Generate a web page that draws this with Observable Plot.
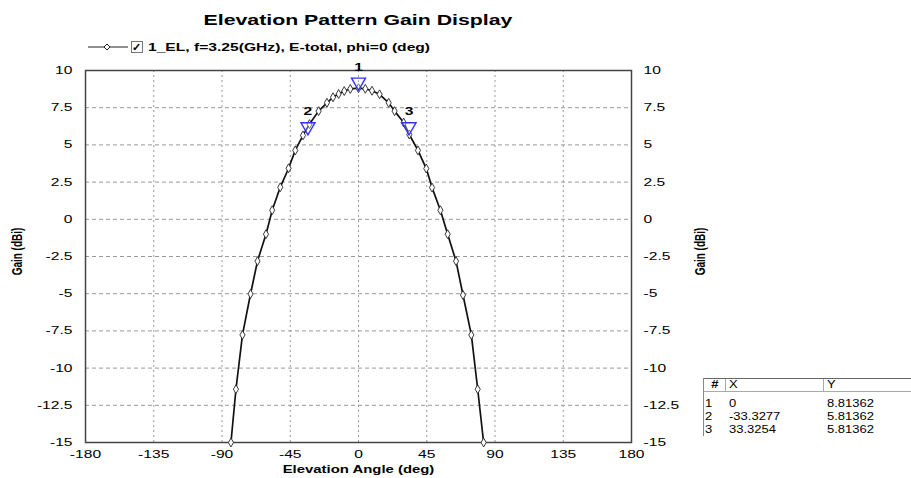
<!DOCTYPE html>
<html><head><meta charset="utf-8">
<script src="https://cdn.jsdelivr.net/npm/d3@7"></script>
<script src="https://cdn.jsdelivr.net/npm/@observablehq/plot@0.6"></script>
<style>
body{margin:0;background:#fff;font-family:"Liberation Sans",Arial,sans-serif;color:#000;}
#wrap{position:relative;width:911px;height:478px;overflow:hidden;background:#fff;}
#title{position:absolute;left:0;width:716px;top:11px;text-align:center;font-weight:bold;font-size:15px;line-height:18px;transform:scaleX(1.42);transform-origin:358px 0;}
#legend{position:absolute;left:88px;top:39px;height:16px;display:flex;align-items:center;}
#legend .box{width:10px;height:10px;border:1px solid #777;margin:0 5px 0 3px;position:relative;background:#fff;}
#legend .box span{position:absolute;left:0px;top:-2px;font-size:11px;font-weight:bold;line-height:14px;}
#legend .txt{font-weight:bold;font-size:11px;transform:scaleX(1.42);transform-origin:0 50%;white-space:nowrap;}
#chart{position:absolute;left:0;top:60px;}
#table{position:absolute;left:703px;top:378px;width:210px;font-size:10px;font-family:"Liberation Sans",Arial,sans-serif;border-left:1px solid #888;}
#table .row{display:flex;height:13px;line-height:13px;}
#table .hdr{border-top:1px solid #666;height:13px;line-height:12px;margin-bottom:5px;}
#table .hdr > div{border-right:1px solid #aaa;border-bottom:1px solid #aaa;box-sizing:border-box;}
#table .c0{width:22px;padding-left:1px;box-sizing:border-box;}
#table .c1{width:98px;padding-left:3px;box-sizing:border-box;}
#table .c2{width:90px;padding-left:3px;box-sizing:border-box;}
#table .t{display:inline-block;transform:scaleX(1.3);transform-origin:0 50%;}
</style></head>
<body>
<div id="wrap">
  <div id="title">Elevation Pattern Gain Display</div>
  <div id="legend"></div>
  <div id="chart"></div>
  <div id="table"></div>
</div>
<script>
// Pattern samples
const angles = [-84.1,-80.8,-76.5,-71.2,-66.6,-61.0,-56.9,-51.6,-46.1,-41.7,-36.6,-32.3,-26.3,-20.8,-16.8,-13.1,-9.4,-5.4,0,4.5,8.9,13.9,19.9,23.8,29.8,33.5,39.2,44.7,48.5,54.0,58.8,64.3,68.9,74.4,78.6,82.5];
const gains = [-15,-11.42,-7.77,-5.02,-2.81,-1.0,0.61,2.15,3.43,4.63,5.64,6.4,7.27,7.83,8.2,8.42,8.62,8.76,8.81,8.77,8.64,8.4,7.83,7.27,6.5,5.7,4.63,3.41,2.13,0.61,-1.0,-2.81,-5.09,-7.77,-11.42,-15];

// Markers
const markerIds = ["1","2","3"];
const markerX = [0,-33.3277,33.3254];
const markerY = [8.81362,5.81362,5.81362];

// Axis ticks
const xTicks = [-180,-135,-90,-45,0,45,90,135,180];
const yTicks = [10,7.5,5,2.5,0,-2.5,-5,-7.5,-10,-12.5,-15];

const seriesLabel = "1_EL, f=3.25(GHz), E-total, phi=0 (deg)";
const xLabel = "Elevation Angle (deg)";
const yLabel = "Gain (dBi)";

const pts = angles.map((a,i)=>({a, g:gains[i]}));
const markers = markerIds.map((id,i)=>({id, x:markerX[i], y:markerY[i]}));
const fmt = d => String(d);
const font = "'Liberation Sans', Arial, sans-serif";
const STRETCH = 1.42;

const plot = Plot.plot({
  width: 911, height: 418,
  marginLeft: 85, marginRight: 280, marginTop: 10, marginBottom: 36,
  style: {fontFamily: font, fontSize: "11px", color:"#000", background:"transparent", overflow:"visible"},
  x: {domain:[-180,180], ticks: xTicks},
  y: {domain:[-15,10], ticks: yTicks},
  marks: [
    Plot.gridY(yTicks.filter(d=>d>-15 && d<10), {stroke:"#999", strokeOpacity:1, strokeDasharray:"4,3"}),
    Plot.gridX(xTicks.filter(d=>d>-180 && d<180), {stroke:"#999", strokeOpacity:1, strokeDasharray:"2,3"}),
    Plot.axisX(xTicks, {tickSize:0, tickPadding:8, tickFormat:fmt, label:null, fontSize:11}),
    Plot.axisY(yTicks, {anchor:"left", tickSize:0, tickPadding:13, tickFormat:fmt, label:null, fontSize:11}),
    Plot.axisY(yTicks, {anchor:"right", tickSize:0, tickPadding:12, tickFormat:fmt, label:null, fontSize:11}),
    Plot.text([yLabel], {frameAnchor:"left", dx:-68, dy:-5, rotate:-90, textAnchor:"middle", fontWeight:"bold", fontSize:10}),
    Plot.text([yLabel], {frameAnchor:"right", dx:69, dy:-5, rotate:-90, textAnchor:"middle", fontWeight:"bold", fontSize:10}),
    Plot.text([xLabel], {frameAnchor:"bottom", dy:30, textAnchor:"middle", fontWeight:"bold", fontSize:10.5}),
    Plot.frame({stroke:"#444", strokeWidth:1.5}),
    Plot.line(pts, {x:"a", y:"g", stroke:"#111", strokeWidth:1.7}),
    Plot.dot(pts, {x:"a", y:"g", symbol:"diamond", r:2.7, fill:"white", stroke:"#222", strokeWidth:0.9}),
    Plot.dot(markers, {x:"x", y:"y", symbol:"triangle", rotate:180, r:5.2, fill:"white", fillOpacity:0.3, stroke:"#3030ff", strokeWidth:1.4, dy:-6}),
    Plot.text(markers, {x:"x", y:"y", text:"id", dy:-21, fontWeight:"bold", fontSize:11})
  ]
});
document.getElementById("chart").appendChild(plot);

// horizontal stretch of all texts, as in the reference picture
plot.querySelectorAll("text").forEach(t=>{
  const tr = t.getAttribute("transform") || "";
  const rotated = /rotate\(/.test(tr);
  let pre = "";
  const x = t.getAttribute("x"), y = t.getAttribute("y");
  if (x != null && !isNaN(+x)) { t.removeAttribute("x"); pre += ` translate(${x},0)`; }
  if (y != null && !isNaN(+y)) { t.removeAttribute("y"); pre += ` translate(0,${y})`; }
  t.setAttribute("transform", `${tr}${pre} ${rotated ? `scale(1,${STRETCH})` : `scale(${STRETCH},1)`}`);
});

// legend
const lg = document.getElementById("legend");
lg.innerHTML = `<svg width="40" height="16"><line x1="0" y1="8" x2="40" y2="8" stroke="#222" stroke-width="1.2"/><path d="M19,5 L22,8 L19,11 L16,8 Z" fill="white" stroke="#222" stroke-width="1"/></svg><div class="box"><span>✓</span></div><div class="txt">${seriesLabel}</div>`;

// marker table
const tb = document.getElementById("table");
let html = `<div class="row hdr"><div class="c0" style="text-align:center;padding-left:0;font-weight:bold"><span class="t" style="transform-origin:50% 50%">#</span></div><div class="c1"><span class="t">X</span></div><div class="c2"><span class="t">Y</span></div></div>`;
markers.forEach(m=>{
  html += `<div class="row"><div class="c0"><span class="t">${m.id}</span></div><div class="c1"><span class="t">${m.x}</span></div><div class="c2"><span class="t">${m.y}</span></div></div>`;
});
tb.innerHTML = html;
</script>
</body></html>
